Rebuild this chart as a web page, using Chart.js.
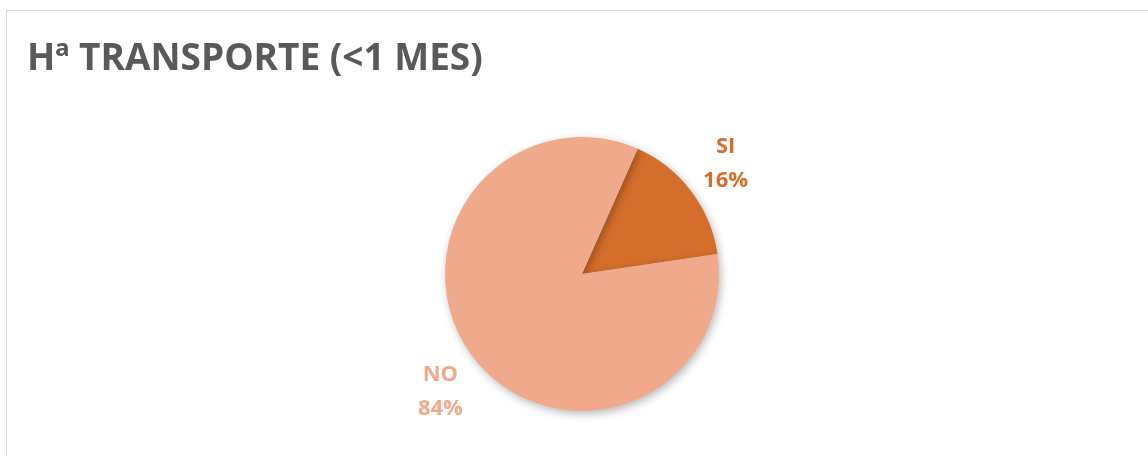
<!DOCTYPE html>
<html>
<head>
<meta charset="utf-8">
<script src="https://cdn.jsdelivr.net/npm/chart.js@4/dist/chart.umd.min.js"></script>
<style>
    html, body { margin: 0; padding: 0; background: #ffffff; }
    #wrap { position: relative; width: 1148px; height: 456px; overflow: hidden; }
    #frame { position: absolute; left: 6px; top: 10px; width: 1160px; height: 470px; border: 1px solid #d9d9d9; box-sizing: border-box; }
    #myChart { position: absolute; left: 0; top: 0; }
</style>
</head>
<body>
<div id="wrap">
    <div id="frame"></div>
    <canvas id="myChart" width="1148" height="456"></canvas>
</div>

<script>
const chartTitle = 'Hª TRANSPORTE (<1 MES)';
const categories = ['SI', 'NO'];
const shares = [16, 84];
const sliceColors = ['#D46E2B', '#F0A98A'];

// labels "SI / 16%" drawn outside each slice, along the slice's middle angle
const outsideLabels = {
    id: 'outsideLabels',
    afterDatasetsDraw(chart) {
        const c = chart.ctx;
        const meta = chart.getDatasetMeta(0);
        meta.data.forEach((arc, i) => {
            const p = arc.getProps(['x', 'y', 'startAngle', 'endAngle', 'outerRadius'], true);
            const mid = (p.startAngle + p.endAngle) / 2;
            const r = p.outerRadius + 42;
            const x = p.x + Math.cos(mid) * r + 1;
            // push the two-line block a bit further away vertically
            const y = p.y + Math.sin(mid) * r + Math.sign(Math.sin(mid)) * 6 + 4;
            c.save();
            c.fillStyle = sliceColors[i];
            c.font = 'bold 22px "Open Sans"';
            c.textAlign = 'center';
            c.textBaseline = 'middle';
            c.fillText(categories[i], x, y - 17);
            c.fillText(shares[i] + '%', x, y + 17);
            c.restore();
        });
    }
};

// soft shadow under the pie
const pieShadow = {
    id: 'pieShadow',
    beforeDatasetsDraw(chart) {
        const c = chart.ctx;
        c.save();
        c.shadowColor = 'rgba(0,0,0,0.28)';
        c.shadowBlur = 9;
        c.shadowOffsetX = 2;
        c.shadowOffsetY = 3;
    },
    afterDatasetsDraw(chart) {
        chart.ctx.restore();
    }
};

const ctx = document.getElementById('myChart').getContext('2d');
const chart = new Chart(ctx, {
    type: 'pie',
    data: {
        labels: categories,
        datasets: [{
            data: shares,
            backgroundColor: sliceColors,
            borderWidth: 0,
            hoverOffset: 0
        }]
    },
    options: {
        responsive: false,
        animation: false,
        rotation: 24,
        layout: { padding: { left: 27, right: 11, top: 0, bottom: 45 } },
        plugins: {
            legend: { display: false },
            tooltip: { enabled: false },
            title: {
                display: true,
                text: chartTitle,
                align: 'start',
                color: '#595959',
                font: { family: '"Open Sans"', size: 37, weight: 'bold', lineHeight: 1.2 },
                padding: { top: 37.4, bottom: 55.2 }
            }
        }
    },
    plugins: [pieShadow, outsideLabels]
});
</script>
</body>
</html>
